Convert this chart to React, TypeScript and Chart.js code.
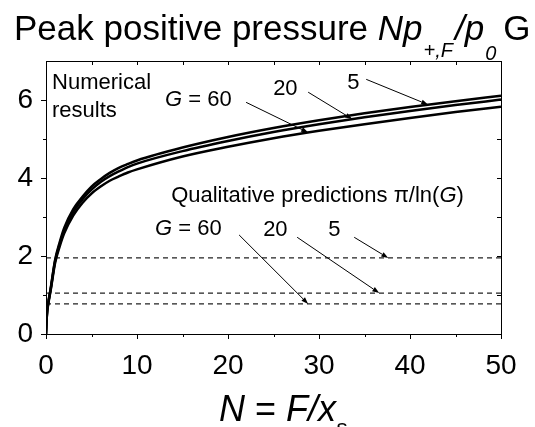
import React, { useEffect, useRef } from "react";
import { Chart, registerables } from "chart.js";

Chart.register(...registerables);

// ---- data ----
const nValues = [0, 0.1, 0.25, 0.5, 1, 1.5, 2, 3, 4, 5, 6, 7, 8, 9, 10, 15, 20, 25, 30, 35, 40, 45, 50];
const peakG5 = [0, 0.5, 0.8, 1.15, 1.9, 2.35, 2.72, 3.2, 3.52, 3.78, 3.97, 4.13, 4.26, 4.36, 4.45, 4.78, 5.05, 5.28, 5.48, 5.66, 5.82, 5.97, 6.11];
const peakG20 = [0, 0.5, 0.8, 1.13, 1.87, 2.3, 2.66, 3.13, 3.45, 3.7, 3.9, 4.05, 4.17, 4.28, 4.37, 4.69, 4.95, 5.18, 5.38, 5.56, 5.72, 5.87, 6.01];
const peakG60 = [0, 0.48, 0.77, 1.1, 1.82, 2.24, 2.58, 3.04, 3.36, 3.6, 3.78, 3.93, 4.04, 4.14, 4.22, 4.55, 4.8, 5.02, 5.21, 5.38, 5.54, 5.69, 5.83];
const predictionG = [5, 20, 60];
const predictionValues = [1.95, 1.05, 0.77];
const xRange = [0, 50];
const yRange = [0, 7];
const xTickValues = [0, 10, 20, 30, 40, 50];
const xMinorTicks = [5, 15, 25, 35, 45];
const topTickValues = [5, 10, 15, 20, 25, 30, 35, 40, 45];
const yTickValues = [0, 2, 4, 6];
const yMinorTicks = [1, 3, 5];
const rightTickValues = [1, 2, 3, 4, 5, 6];

const FONT = '"Liberation Sans", Arial, Helvetica, sans-serif';

type Seg = { t: string; it?: boolean; sub?: boolean; dy?: number; gap?: number };

function drawRich(ctx: CanvasRenderingContext2D, segs: Seg[], x: number, y: number, size: number, subSize: number) {
  let cx = x;
  ctx.textAlign = "left";
  ctx.textBaseline = "alphabetic";
  for (const s of segs) {
    const fs = s.sub ? subSize : size;
    ctx.font = `${s.it ? "italic " : ""}${fs}px ${FONT}`;
    ctx.fillText(s.t, cx, y + (s.dy || 0));
    cx += ctx.measureText(s.t).width + (s.gap || 0);
  }
}

function interp(xs: number[], ys: number[], x: number) {
  for (let i = 1; i < xs.length; i++) {
    if (x <= xs[i]) {
      const t = (x - xs[i - 1]) / (xs[i] - xs[i - 1]);
      return ys[i - 1] + t * (ys[i] - ys[i - 1]);
    }
  }
  return ys[ys.length - 1];
}

const curveByG: Record<number, number[]> = { 5: peakG5, 20: peakG20, 60: peakG60 };

// annotation texts (data coordinates of left/baseline)
const notes: { segs: Seg[]; x: number; y: number }[] = [
  { segs: [{ t: "Numerical" }], x: 0.66, y: 6.28 },
  { segs: [{ t: "results" }], x: 0.66, y: 5.56 },
  { segs: [{ t: "G", it: true }, { t: " = 60" }], x: 13.09, y: 5.84 },
  { segs: [{ t: "20" }], x: 24.96, y: 6.12 },
  { segs: [{ t: "5" }], x: 33.1, y: 6.28 },
  { segs: [{ t: "Qualitative predictions π/ln(" }, { t: "G", it: true }, { t: ")" }], x: 13.75, y: 3.38 },
  { segs: [{ t: "G", it: true }, { t: " = 60" }], x: 11.99, y: 2.54 },
  { segs: [{ t: "20" }], x: 23.86, y: 2.51 },
  { segs: [{ t: "5" }], x: 31.01, y: 2.51 },
];

// arrows: start in data coords, end at x on the target curve / prediction line
const arrows: { x0: number; y0: number; x1: number; target: "curve" | "pred"; g: number }[] = [
  { x0: 21.99, y0: 5.94, x1: 28.81, target: "curve", g: 60 },
  { x0: 28.81, y0: 6.2, x1: 33.65, target: "curve", g: 20 },
  { x0: 35.19, y0: 6.53, x1: 42.0, target: "curve", g: 5 },
  { x0: 21.22, y0: 2.54, x1: 28.81, target: "pred", g: 60 },
  { x0: 27.6, y0: 2.48, x1: 36.62, target: "pred", g: 20 },
  { x0: 33.87, y0: 2.48, x1: 37.61, target: "pred", g: 5 },
];

const decorPlugin = {
  id: "decor",
  afterDraw(chart: any) {
    const ctx: CanvasRenderingContext2D = chart.ctx;
    const { left, right, top, bottom } = chart.chartArea;
    const xs = chart.scales.x;
    const ys = chart.scales.y;
    ctx.save();
    ctx.strokeStyle = "#000";
    ctx.fillStyle = "#000";
    ctx.lineWidth = 1;
    // frame
    ctx.strokeRect(Math.round(left) + 0.5, Math.round(top) + 0.5, Math.round(right - left), Math.round(bottom - top));
    ctx.beginPath();
    for (const v of xMinorTicks) {
      const p = Math.round(xs.getPixelForValue(v)) + 0.5;
      ctx.moveTo(p, bottom);
      ctx.lineTo(p, bottom + 3);
    }
    for (const v of topTickValues) {
      const p = Math.round(xs.getPixelForValue(v)) + 0.5;
      ctx.moveTo(p, top);
      ctx.lineTo(p, top + 4);
    }
    for (const v of yMinorTicks) {
      const p = Math.round(ys.getPixelForValue(v)) + 0.5;
      ctx.moveTo(left, p);
      ctx.lineTo(left - 3, p);
    }
    for (const v of rightTickValues) {
      const p = Math.round(ys.getPixelForValue(v)) + 0.5;
      ctx.moveTo(right, p);
      ctx.lineTo(right - 4, p);
    }
    ctx.stroke();

    // annotation texts
    for (const n of notes) {
      drawRich(ctx, n.segs, xs.getPixelForValue(n.x), ys.getPixelForValue(n.y), 22, 22);
    }
    // arrows
    for (const a of arrows) {
      const yEnd = a.target === "curve" ? interp(nValues, curveByG[a.g], a.x1) : predictionValues[predictionG.indexOf(a.g)];
      const px0 = xs.getPixelForValue(a.x0);
      const py0 = ys.getPixelForValue(a.y0);
      const px1 = xs.getPixelForValue(a.x1);
      const py1 = ys.getPixelForValue(yEnd);
      const ang = Math.atan2(py1 - py0, px1 - px0);
      const hl = 7;
      const hw = 2.5;
      const bx = px1 - hl * Math.cos(ang);
      const by = py1 - hl * Math.sin(ang);
      ctx.beginPath();
      ctx.moveTo(px0, py0);
      ctx.lineTo(bx, by);
      ctx.lineWidth = 1;
      ctx.stroke();
      ctx.beginPath();
      ctx.moveTo(px1, py1);
      ctx.lineTo(bx + hw * Math.sin(ang), by - hw * Math.cos(ang));
      ctx.lineTo(bx - hw * Math.sin(ang), by + hw * Math.cos(ang));
      ctx.closePath();
      ctx.fill();
    }

    // chart title
    drawRich(
      ctx,
      [
        { t: "Peak positive pressure " },
        { t: "Np", it: true, gap: 1 },
        { t: "+,F", it: true, sub: true, dy: 17, gap: 2 },
        { t: "/p", it: true, gap: 1 },
        { t: "0", it: true, sub: true, dy: 20, gap: 7 },
        { t: "G" },
      ],
      14,
      40,
      35,
      20
    );
    // x axis title
    drawRich(
      ctx,
      [
        { t: "N", it: true },
        { t: " = " },
        { t: "F/x", it: true },
        { t: "s", it: true, sub: true, dy: 14 },
      ],
      219,
      421,
      36,
      22
    );
    ctx.restore();
  },
};

export default function App() {
  const ref = useRef<HTMLCanvasElement | null>(null);
  useEffect(() => {
    document.body.style.margin = "0";
    const canvas = ref.current!;
    const solid = (vals: number[], label: string) => ({
      label,
      data: nValues.map((x, i) => ({ x, y: vals[i] })),
      borderColor: "#000",
      borderWidth: 2.5,
      pointRadius: 0,
      fill: false,
      cubicInterpolationMode: "monotone" as const,
    });
    const dashed = (v: number, g: number) => ({
      label: "pred G=" + g,
      data: [
        { x: xRange[0], y: v },
        { x: xRange[1], y: v },
      ],
      borderColor: "#222",
      borderWidth: 1.2,
      borderDash: [5, 4],
      pointRadius: 0,
      fill: false,
    });
    const chart = new Chart(canvas, {
      type: "line",
      data: {
        datasets: [
          solid(peakG5, "G=5"),
          solid(peakG20, "G=20"),
          solid(peakG60, "G=60"),
          ...predictionValues.map((v, i) => dashed(v, predictionG[i])),
        ],
      },
      options: {
        animation: false,
        responsive: false,
        devicePixelRatio: 1,
        parsing: false as any,
        layout: { padding: { top: 61, right: 34, left: 0, bottom: 0 } },
        plugins: { legend: { display: false }, tooltip: { enabled: false }, title: { display: false } },
        scales: {
          x: {
            type: "linear",
            min: xRange[0],
            max: xRange[1],
            afterBuildTicks: (s: any) => {
              s.ticks = xTickValues.map((value) => ({ value }));
            },
            afterFit: (s: any) => {
              s.height = 93;
            },
            grid: { drawOnChartArea: false, drawTicks: true, tickLength: 5, color: "#000", lineWidth: 1 },
            border: { display: false },
            ticks: { color: "#000", font: { family: FONT, size: 28 }, padding: 10, maxRotation: 0, autoSkip: false },
          },
          y: {
            type: "linear",
            min: yRange[0],
            max: yRange[1],
            afterBuildTicks: (s: any) => {
              s.ticks = yTickValues.map((value) => ({ value }));
            },
            afterFit: (s: any) => {
              s.width = 46;
            },
            grid: { drawOnChartArea: false, drawTicks: true, tickLength: 5, color: "#000", lineWidth: 1 },
            border: { display: false },
            ticks: { color: "#000", font: { family: FONT, size: 28 }, padding: 8, autoSkip: false },
          },
        },
      } as any,
      plugins: [decorPlugin],
    });
    return () => chart.destroy();
  }, []);
  return (
    <div style={{ position: "absolute", left: 0, top: 0, width: 535, height: 427, background: "#fff" }}>
      <canvas ref={ref} width={535} height={427} style={{ width: 535, height: 427, display: "block" }} />
    </div>
  );
}
